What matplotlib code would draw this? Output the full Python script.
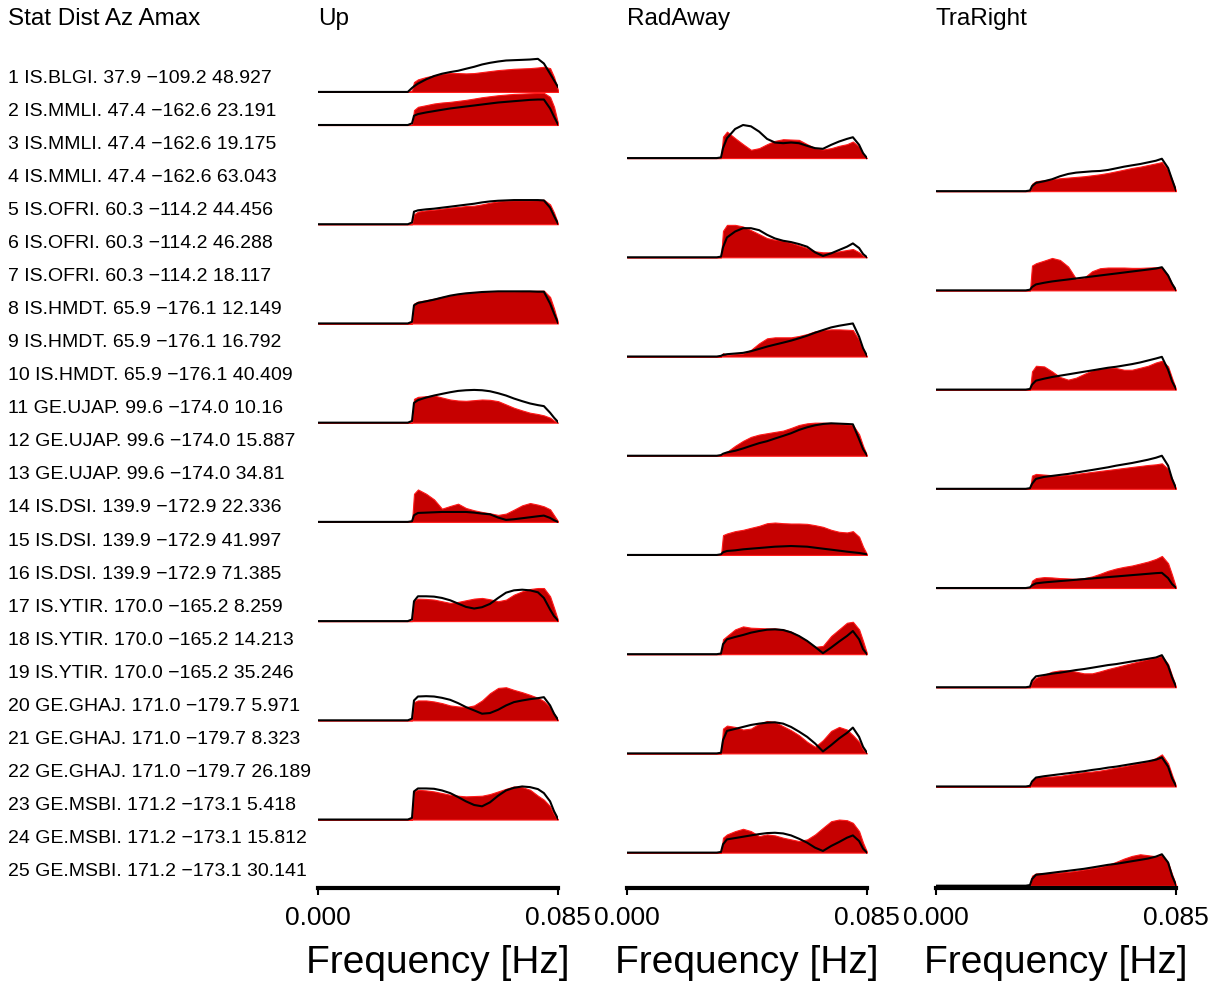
"""Amplitude spectra, observed (red) vs synthetic (black), per station and component."""

import numpy as np
import matplotlib.pyplot as plt
from matplotlib import transforms

# ---------------------------------------------------------------------------
# Station table
# ---------------------------------------------------------------------------
STATIONS = ["IS.BLGI.", "IS.MMLI.", "IS.MMLI.", "IS.MMLI.", "IS.OFRI.",
            "IS.OFRI.", "IS.OFRI.", "IS.HMDT.", "IS.HMDT.", "IS.HMDT.",
            "GE.UJAP.", "GE.UJAP.", "GE.UJAP.", "IS.DSI.", "IS.DSI.",
            "IS.DSI.", "IS.YTIR.", "IS.YTIR.", "IS.YTIR.", "GE.GHAJ.",
            "GE.GHAJ.", "GE.GHAJ.", "GE.MSBI.", "GE.MSBI.", "GE.MSBI."]
DIST = [37.9, 47.4, 47.4, 47.4, 60.3, 60.3, 60.3, 65.9, 65.9, 65.9,
        99.6, 99.6, 99.6, 139.9, 139.9, 139.9, 170.0, 170.0, 170.0,
        171.0, 171.0, 171.0, 171.2, 171.2, 171.2]
AZ = [-109.2, -162.6, -162.6, -162.6, -114.2, -114.2, -114.2, -176.1,
      -176.1, -176.1, -174.0, -174.0, -174.0, -172.9, -172.9, -172.9,
      -165.2, -165.2, -165.2, -179.7, -179.7, -179.7, -173.1, -173.1,
      -173.1]
AMAX = [48.927, 23.191, 19.175, 63.043, 44.456, 46.288, 18.117, 12.149,
        16.792, 40.409, 10.16, 15.887, 34.81, 22.336, 41.997, 71.385,
        8.259, 14.213, 35.246, 5.971, 8.323, 26.189, 5.418, 15.812, 30.141]
COMPONENT = ["Up", "Up", "RadAway", "TraRight", "Up", "RadAway", "TraRight",
             "Up", "RadAway", "TraRight", "Up", "RadAway", "TraRight",
             "Up", "RadAway", "TraRight", "Up", "RadAway", "TraRight",
             "Up", "RadAway", "TraRight", "Up", "RadAway", "TraRight"]
COLUMNS = ["Up", "RadAway", "TraRight"]

# ---------------------------------------------------------------------------
# Spectra (normalised amplitude, 1 = trace spacing)
# ---------------------------------------------------------------------------
F_MAX = 0.085
F_ZERO = [0.0, 0.0318]
F_BAND = [0.0333, 0.0340, 0.0354, 0.0383, 0.0411, 0.0439, 0.0468, 0.0496,
          0.0524, 0.0553, 0.0581, 0.0609, 0.0638, 0.0666, 0.0694, 0.0723,
          0.0751, 0.0779, 0.0800, 0.0822, 0.0836, 0.0850]

OBS = [
    [0.05, 0.30, 0.38, 0.45, 0.50, 0.55, 0.57, 0.57, 0.56, 0.57, 0.60, 0.63, 0.66, 0.68, 0.70, 0.71, 0.72, 0.74, 0.76, 0.72, 0.45, 0.05],
    [0.00, 0.45, 0.55, 0.60, 0.65, 0.68, 0.70, 0.73, 0.76, 0.80, 0.84, 0.87, 0.90, 0.92, 0.94, 0.95, 0.96, 0.97, 0.97, 0.85, 0.55, 0.05],
    [0.00, 0.65, 0.80, 0.60, 0.42, 0.25, 0.30, 0.42, 0.52, 0.57, 0.56, 0.55, 0.42, 0.30, 0.26, 0.30, 0.37, 0.42, 0.50, 0.35, 0.12, 0.00],
    [0.00, 0.22, 0.30, 0.33, 0.36, 0.39, 0.41, 0.43, 0.45, 0.48, 0.51, 0.55, 0.60, 0.65, 0.70, 0.74, 0.79, 0.84, 0.88, 0.65, 0.35, 0.02],
    [0.00, 0.30, 0.38, 0.42, 0.44, 0.47, 0.50, 0.52, 0.55, 0.56, 0.60, 0.65, 0.69, 0.71, 0.72, 0.72, 0.72, 0.73, 0.74, 0.60, 0.35, 0.02],
    [0.00, 0.80, 0.98, 0.98, 0.93, 0.82, 0.70, 0.58, 0.53, 0.50, 0.44, 0.36, 0.28, 0.18, 0.15, 0.15, 0.18, 0.22, 0.25, 0.15, 0.05, 0.00],
    [0.00, 0.75, 0.82, 0.90, 0.98, 0.92, 0.72, 0.35, 0.38, 0.58, 0.67, 0.69, 0.69, 0.69, 0.68, 0.68, 0.69, 0.70, 0.70, 0.45, 0.20, 0.01],
    [0.00, 0.60, 0.66, 0.70, 0.75, 0.80, 0.85, 0.89, 0.92, 0.94, 0.95, 0.96, 0.97, 0.97, 0.97, 0.98, 0.98, 0.99, 0.99, 0.80, 0.45, 0.03],
    [0.00, 0.10, 0.05, 0.07, 0.09, 0.20, 0.40, 0.55, 0.58, 0.58, 0.58, 0.62, 0.68, 0.76, 0.80, 0.82, 0.82, 0.81, 0.80, 0.50, 0.20, 0.01],
    [0.00, 0.55, 0.72, 0.70, 0.55, 0.38, 0.30, 0.36, 0.47, 0.58, 0.64, 0.66, 0.65, 0.60, 0.60, 0.66, 0.72, 0.82, 0.87, 0.70, 0.35, 0.02],
    [0.00, 0.72, 0.78, 0.80, 0.82, 0.76, 0.70, 0.67, 0.66, 0.68, 0.70, 0.69, 0.65, 0.55, 0.45, 0.37, 0.30, 0.26, 0.22, 0.15, 0.06, 0.00],
    [0.00, 0.06, 0.12, 0.30, 0.45, 0.57, 0.64, 0.68, 0.72, 0.76, 0.84, 0.93, 0.98, 1.00, 1.00, 0.99, 0.97, 0.95, 0.93, 0.65, 0.30, 0.01],
    [0.00, 0.40, 0.45, 0.43, 0.41, 0.40, 0.42, 0.45, 0.48, 0.51, 0.54, 0.57, 0.60, 0.63, 0.66, 0.69, 0.72, 0.74, 0.77, 0.60, 0.30, 0.02],
    [0.00, 0.85, 0.98, 0.85, 0.68, 0.40, 0.48, 0.55, 0.42, 0.35, 0.30, 0.26, 0.21, 0.25, 0.37, 0.50, 0.57, 0.52, 0.47, 0.38, 0.20, 0.02],
    [0.00, 0.60, 0.65, 0.72, 0.76, 0.82, 0.88, 0.96, 0.98, 0.96, 0.95, 0.95, 0.94, 0.90, 0.85, 0.76, 0.70, 0.68, 0.72, 0.55, 0.25, 0.02],
    [0.00, 0.22, 0.30, 0.33, 0.32, 0.30, 0.29, 0.28, 0.30, 0.35, 0.43, 0.52, 0.59, 0.64, 0.68, 0.74, 0.80, 0.88, 0.97, 0.75, 0.40, 0.02],
    [0.00, 0.62, 0.68, 0.67, 0.65, 0.60, 0.55, 0.58, 0.63, 0.68, 0.70, 0.66, 0.60, 0.65, 0.80, 0.90, 0.97, 1.00, 1.00, 0.75, 0.40, 0.03],
    [0.00, 0.45, 0.55, 0.75, 0.84, 0.80, 0.79, 0.78, 0.78, 0.75, 0.68, 0.55, 0.40, 0.22, 0.25, 0.55, 0.75, 0.95, 0.98, 0.75, 0.40, 0.02],
    [0.00, 0.18, 0.28, 0.38, 0.47, 0.51, 0.51, 0.47, 0.42, 0.42, 0.48, 0.55, 0.61, 0.67, 0.73, 0.79, 0.85, 0.90, 0.95, 0.70, 0.35, 0.02],
    [0.00, 0.55, 0.60, 0.60, 0.57, 0.52, 0.45, 0.42, 0.40, 0.45, 0.60, 0.82, 0.98, 1.00, 0.92, 0.85, 0.77, 0.68, 0.58, 0.40, 0.20, 0.01],
    [0.00, 0.75, 0.84, 0.80, 0.72, 0.75, 0.90, 0.98, 0.95, 0.82, 0.70, 0.55, 0.35, 0.20, 0.40, 0.68, 0.80, 0.72, 0.55, 0.35, 0.12, 0.00],
    [0.00, 0.18, 0.28, 0.30, 0.30, 0.32, 0.36, 0.40, 0.43, 0.45, 0.48, 0.52, 0.57, 0.61, 0.66, 0.71, 0.76, 0.86, 0.97, 0.70, 0.35, 0.02],
    [0.00, 0.85, 0.90, 0.88, 0.85, 0.80, 0.75, 0.72, 0.70, 0.71, 0.72, 0.77, 0.85, 0.93, 1.00, 0.98, 0.90, 0.72, 0.60, 0.40, 0.15, 0.01],
    [0.00, 0.45, 0.55, 0.65, 0.72, 0.65, 0.50, 0.55, 0.52, 0.45, 0.40, 0.35, 0.40, 0.55, 0.75, 0.95, 1.00, 0.98, 0.90, 0.65, 0.30, 0.02],
    [0.00, 0.30, 0.37, 0.38, 0.39, 0.40, 0.42, 0.45, 0.49, 0.53, 0.57, 0.63, 0.72, 0.82, 0.90, 0.95, 0.92, 0.89, 0.93, 0.70, 0.35, 0.02],
]

SYN = [
    [0.12, 0.17, 0.25, 0.38, 0.48, 0.55, 0.60, 0.64, 0.70, 0.76, 0.83, 0.88, 0.92, 0.95, 0.96, 0.97, 0.98, 1.00, 0.86, 0.55, 0.35, 0.15],
    [0.05, 0.28, 0.33, 0.38, 0.42, 0.46, 0.50, 0.53, 0.56, 0.59, 0.62, 0.65, 0.68, 0.70, 0.72, 0.74, 0.76, 0.77, 0.77, 0.50, 0.25, 0.02],
    [0.02, 0.30, 0.60, 0.88, 1.00, 0.96, 0.80, 0.58, 0.47, 0.45, 0.47, 0.45, 0.37, 0.30, 0.28, 0.40, 0.50, 0.58, 0.63, 0.40, 0.15, 0.00],
    [0.02, 0.15, 0.25, 0.30, 0.36, 0.45, 0.52, 0.56, 0.58, 0.60, 0.61, 0.64, 0.69, 0.74, 0.78, 0.82, 0.87, 0.92, 0.98, 0.70, 0.35, 0.02],
    [0.05, 0.38, 0.42, 0.45, 0.47, 0.50, 0.53, 0.56, 0.59, 0.62, 0.66, 0.69, 0.71, 0.72, 0.73, 0.73, 0.73, 0.73, 0.72, 0.50, 0.25, 0.02],
    [0.02, 0.30, 0.60, 0.78, 0.88, 0.88, 0.82, 0.68, 0.57, 0.50, 0.46, 0.40, 0.32, 0.15, 0.04, 0.12, 0.22, 0.32, 0.42, 0.28, 0.10, 0.00],
    [0.02, 0.10, 0.18, 0.23, 0.27, 0.30, 0.33, 0.36, 0.39, 0.42, 0.45, 0.48, 0.51, 0.54, 0.57, 0.60, 0.63, 0.66, 0.70, 0.45, 0.20, 0.01],
    [0.05, 0.55, 0.62, 0.67, 0.72, 0.78, 0.84, 0.88, 0.91, 0.93, 0.95, 0.96, 0.97, 0.97, 0.97, 0.97, 0.97, 0.96, 0.96, 0.60, 0.30, 0.02],
    [0.02, 0.05, 0.07, 0.09, 0.11, 0.16, 0.23, 0.30, 0.36, 0.42, 0.48, 0.55, 0.63, 0.72, 0.80, 0.88, 0.93, 0.97, 1.00, 0.60, 0.25, 0.02],
    [0.02, 0.15, 0.27, 0.33, 0.38, 0.42, 0.46, 0.50, 0.54, 0.58, 0.62, 0.66, 0.69, 0.73, 0.77, 0.82, 0.88, 0.94, 0.99, 0.60, 0.25, 0.02],
    [0.05, 0.60, 0.68, 0.76, 0.82, 0.87, 0.92, 0.96, 0.98, 0.99, 0.98, 0.95, 0.89, 0.82, 0.73, 0.65, 0.58, 0.53, 0.50, 0.30, 0.15, 0.02],
    [0.02, 0.06, 0.10, 0.15, 0.22, 0.30, 0.38, 0.44, 0.52, 0.60, 0.68, 0.78, 0.86, 0.92, 0.96, 0.98, 0.97, 0.96, 0.95, 0.50, 0.20, 0.01],
    [0.02, 0.15, 0.30, 0.36, 0.39, 0.42, 0.45, 0.49, 0.53, 0.57, 0.61, 0.65, 0.70, 0.74, 0.78, 0.83, 0.88, 0.94, 1.00, 0.70, 0.30, 0.02],
    [0.02, 0.20, 0.27, 0.28, 0.29, 0.30, 0.30, 0.30, 0.30, 0.28, 0.25, 0.23, 0.13, 0.06, 0.08, 0.11, 0.14, 0.17, 0.19, 0.12, 0.05, 0.00],
    [0.02, 0.08, 0.12, 0.14, 0.17, 0.19, 0.21, 0.23, 0.25, 0.26, 0.27, 0.26, 0.25, 0.22, 0.19, 0.16, 0.13, 0.10, 0.08, 0.06, 0.04, 0.02],
    [0.02, 0.08, 0.14, 0.17, 0.19, 0.21, 0.23, 0.25, 0.27, 0.29, 0.31, 0.33, 0.35, 0.37, 0.39, 0.41, 0.43, 0.45, 0.46, 0.30, 0.12, 0.01],
    [0.05, 0.60, 0.75, 0.75, 0.74, 0.70, 0.63, 0.53, 0.43, 0.38, 0.42, 0.52, 0.70, 0.86, 0.93, 0.95, 0.93, 0.87, 0.70, 0.35, 0.15, 0.02],
    [0.02, 0.30, 0.45, 0.52, 0.58, 0.65, 0.70, 0.74, 0.75, 0.73, 0.66, 0.55, 0.40, 0.22, 0.03, 0.20, 0.38, 0.55, 0.70, 0.45, 0.15, 0.00],
    [0.02, 0.20, 0.33, 0.37, 0.41, 0.44, 0.48, 0.52, 0.55, 0.59, 0.63, 0.67, 0.70, 0.74, 0.78, 0.82, 0.86, 0.90, 0.97, 0.65, 0.30, 0.02],
    [0.05, 0.60, 0.72, 0.73, 0.72, 0.68, 0.62, 0.52, 0.40, 0.30, 0.20, 0.22, 0.32, 0.45, 0.55, 0.60, 0.64, 0.67, 0.70, 0.45, 0.20, 0.02],
    [0.02, 0.40, 0.68, 0.74, 0.80, 0.86, 0.90, 0.93, 0.94, 0.90, 0.80, 0.66, 0.50, 0.30, 0.06, 0.25, 0.45, 0.62, 0.78, 0.50, 0.20, 0.02],
    [0.02, 0.15, 0.27, 0.31, 0.34, 0.37, 0.40, 0.43, 0.46, 0.50, 0.53, 0.57, 0.60, 0.64, 0.68, 0.72, 0.76, 0.81, 0.88, 0.60, 0.25, 0.02],
    [0.05, 0.85, 0.94, 0.94, 0.93, 0.88, 0.80, 0.68, 0.55, 0.44, 0.40, 0.52, 0.72, 0.88, 0.96, 1.00, 0.98, 0.92, 0.80, 0.55, 0.25, 0.02],
    [0.02, 0.25, 0.40, 0.44, 0.48, 0.52, 0.56, 0.59, 0.60, 0.58, 0.52, 0.42, 0.30, 0.15, 0.05, 0.20, 0.32, 0.45, 0.52, 0.35, 0.12, 0.00],
    [0.02, 0.20, 0.33, 0.36, 0.39, 0.42, 0.45, 0.48, 0.51, 0.55, 0.59, 0.63, 0.66, 0.70, 0.74, 0.78, 0.82, 0.88, 0.95, 0.70, 0.30, 0.02],
]

# ---------------------------------------------------------------------------
# Layout (pixel geometry of a 1212 x 988 canvas)
# ---------------------------------------------------------------------------
W, H = 1212, 988
COL_LEFT = [318, 627, 936]
COL_WIDTH = 240
AX_TOP, AX_BOTTOM = 40, 888
YLIM = (-0.07, 25.57)

OBS_FACE = "#c60000"
OBS_EDGE = "#ff1a1a"
SYN_COLOR = "black"

plt.rcParams["font.family"] = ["Liberation Sans", "DejaVu Sans"]

fig = plt.figure(figsize=(W / 100, H / 100), dpi=100)

axes = {}
for name, left in zip(COLUMNS, COL_LEFT):
    ax = fig.add_axes([left / W, 1 - AX_BOTTOM / H,
                       COL_WIDTH / W, (AX_BOTTOM - AX_TOP) / H])
    ax.set_xlim(0, F_MAX)
    ax.set_ylim(*YLIM)
    for side in ("top", "right", "left"):
        ax.spines[side].set_visible(False)
    ax.spines["bottom"].set_linewidth(3.0)
    ax.set_yticks([])
    ax.set_xticks([0, F_MAX], labels=["0.000", "0.085"])
    ax.tick_params(axis="x", direction="out", length=5, width=1.5, pad=8,
                   labelsize=19)
    ax.set_xlabel("Frequency [Hz]", fontsize=28, labelpad=11)
    axes[name] = ax

freq = np.array(F_ZERO + F_BAND)
n_rows = len(STATIONS)

for i in range(n_rows):
    ax = axes[COMPONENT[i]]
    base = n_rows - 1 - i
    obs = np.array([0.0, 0.0] + OBS[i])
    syn = np.array([0.0, 0.0] + SYN[i])
    ax.fill_between(freq, base, base + obs, facecolor=OBS_FACE,
                    edgecolor=OBS_EDGE, linewidth=0.8, zorder=2 + i * 0.01)
    ax.plot(freq, base + syn, color=SYN_COLOR, linewidth=1.5,
            solid_joinstyle="round", zorder=3 + i * 0.01)

# station labels, one per trace row, on the shared vertical scale
label_tf = transforms.blended_transform_factory(fig.transFigure,
                                                axes["Up"].transData)
for i in range(n_rows):
    az = f"{AZ[i]:.1f}".replace("-", "\u2212")
    text = f"{i + 1} {STATIONS[i]} {DIST[i]:.1f} {az} {AMAX[i]:g}"
    fig.text(8 / W, n_rows - 1 - i + 0.42, text, transform=label_tf,
             fontsize=14, ha="left", va="center")

title_y = 1 - 19 / H
fig.text(8 / W, title_y, "Stat Dist Az Amax", fontsize=17.5,
         ha="left", va="center")
for name, left in zip(COLUMNS, COL_LEFT):
    fig.text(left / W, title_y, name, fontsize=17.5, ha="left", va="center")

fig.savefig("out.png", dpi=100)
